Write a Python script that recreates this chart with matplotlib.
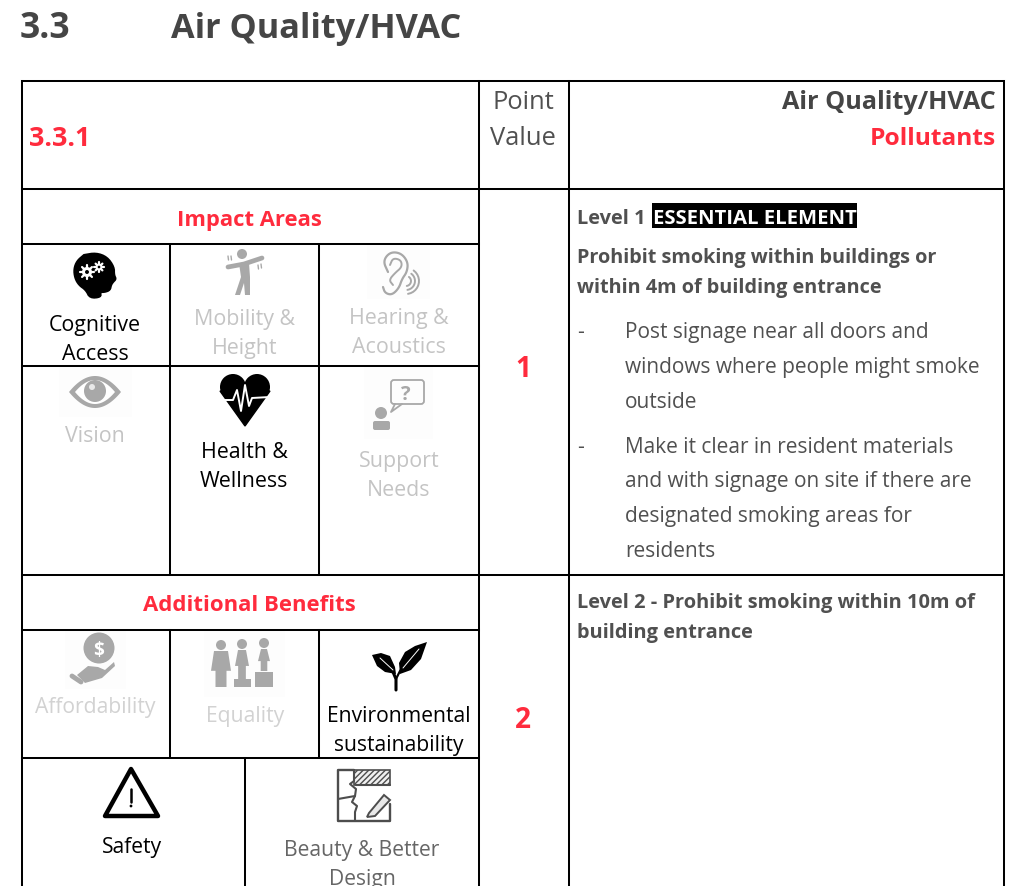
import numpy as np
import matplotlib
matplotlib.use('Agg')
from matplotlib import pyplot as plt
from matplotlib.patches import Circle, Polygon, Rectangle, FancyBboxPatch

plt.rcParams['font.family'] = ['Open Sans', 'DejaVu Sans']

# table text
section_no = '3.3'
section_title = 'Air Quality/HVAC'
item_no = '3.3.1'
point_label = ['Point', 'Value']
head_right = ['Air Quality/HVAC', 'Pollutants']
points = ['1', '2']
group_titles = ['Impact Areas', 'Additional Benefits']
impact_labels = [['Cognitive', 'Access'], ['Mobility &', 'Height'], ['Hearing &', 'Acoustics'],
                 ['Vision'], ['Health &', 'Wellness'], ['Support', 'Needs']]
benefit_labels = [['Affordability'], ['Equality'], ['Environmental', 'sustainability'],
                  ['Safety'], ['Beauty & Better', 'Design']]
level1_tag = 'Level 1'
level1_badge = 'ESSENTIAL ELEMENT'
level1_head = ['Prohibit smoking within buildings or', 'within 4m of building entrance']
level1_bullets = [['Post signage near all doors and', 'windows where people might smoke', 'outside'],
                  ['Make it clear in resident materials', 'and with signage on site if there are',
                   'designated smoking areas for', 'residents']]
level2_text = ['Level 2 - Prohibit smoking within 10m of', 'building entrance']

RED = '#ff2b3d'
DARK = '#454545'
BODY = '#505050'
FADED = '#c4c4c4'
ICON = '#a8a8a8'

W, H = 1009, 887
fig = plt.figure(figsize=(W / 100, H / 100), dpi=100)
ax = fig.add_axes([0, 0, 1, 1])
ax.set_xlim(0, W)
ax.set_ylim(H, 0)
ax.axis('off')


def px(size):
    # px to pt
    return size * 72 / 100


def txt(x, y, s, size=22, color=BODY, weight='normal', ha='left', z=5):
    return ax.text(x, y, s, fontsize=px(size), color=color, fontweight=weight, ha=ha, va='baseline', zorder=z)


def hline(y, x0, x1):
    ax.plot([x0, x1], [y + 0.5, y + 0.5], color='black', lw=1.45, solid_capstyle='projecting', zorder=3)


def vline(x, y0, y1):
    ax.plot([x, x], [y0 + 0.5, y1 + 0.5], color='black', lw=1.45, solid_capstyle='projecting', zorder=3)


def smooth(pts, n=3):
    # corner cutting, keeps the ends
    pts = np.array(pts, dtype=float)
    for _ in range(n):
        q = 0.75 * pts[:-1] + 0.25 * pts[1:]
        r = 0.25 * pts[:-1] + 0.75 * pts[1:]
        mid = np.empty((len(q) * 2, 2))
        mid[0::2] = q
        mid[1::2] = r
        pts = np.r_[pts[:1], mid, pts[-1:]]
    return pts


def curve(pts, color, lw, z=6):
    pts = np.array(pts, dtype=float)
    ax.plot(pts[:, 0], pts[:, 1], color=color, lw=lw, solid_capstyle='round', solid_joinstyle='round', zorder=z)


def gear(x, y, r, color='white'):
    ang = np.linspace(0, 2 * np.pi, 8, endpoint=False)
    for a in ang:
        curve([[x, y], [x + r * np.cos(a), y + r * np.sin(a)]], color, 1.6, 7)
    ax.add_patch(Circle((x, y), r * 0.72, fc=color, ec='none', zorder=7))
    ax.add_patch(Circle((x, y), r * 0.28, fc='black', ec='none', zorder=8))


def head_icon():
    pts = [(84, 256), (96, 254), (107, 258), (114, 268), (114, 276), (116, 280), (113, 283), (111, 286),
           (110, 291), (105, 293), (100, 293), (101, 298), (90, 299), (86, 291), (79, 286), (75, 279),
           (74, 270), (77, 262)]
    ax.add_patch(Polygon(smooth(pts + pts[:1], 2), closed=True, fc='black', ec='black', lw=1.5, zorder=6))
    gear(87, 273, 7)
    gear(99, 268, 4.8)


def mobility_icon():
    ax.add_patch(Circle((242, 255), 5, fc=ICON, ec='none', zorder=6))
    curve([(228, 268), (244, 265), (262, 259)], ICON, 3.4)
    ax.add_patch(Polygon([(239, 264), (249, 264), (250, 278), (250, 296), (245, 296), (244, 284), (240, 296),
                          (235, 296), (241, 278)], closed=True, fc=ICON, ec='none', zorder=6))
    for x, y in [(228, 257), (231, 257), (258, 266), (261, 265)]:
        curve([(x, y), (x + 0.5, y + 4)], ICON, 1)


def ear_icon():
    ax.add_patch(Rectangle((367, 246), 63, 54, fc='#fdfdfd', ec='none', zorder=1))
    curve(smooth([(388, 273), (383, 262), (390, 253), (401, 254), (408, 263), (407, 273), (402, 280), (399, 289),
                  (392, 296), (385, 294), (383, 288)]), ICON, 1.6)
    curve(smooth([(390, 266), (393, 259), (401, 261), (402, 268), (395, 274), (389, 281), (393, 286)]), ICON, 1.4)
    for r in (5, 9, 13):
        t = np.linspace(-0.3 * np.pi, 0.45 * np.pi, 12)
        curve(np.c_[406 + r * np.cos(t), 282 + r * np.sin(t)], ICON, 1.4)


def eye_icon():
    ax.add_patch(Rectangle((59, 367), 73, 51, fc='#fdfdfd', ec='none', zorder=1))
    t = np.linspace(0, 1, 40)
    top = np.c_[69 + 52 * t, 393 - 64 * t * (1 - t)]
    bottom = np.c_[121 - 52 * t, 393 + 64 * t * (1 - t)]
    ax.add_patch(Polygon(np.r_[top, bottom], closed=True, fc=ICON, ec='none', zorder=6))
    top = np.c_[75 + 40 * t, 393 - 48 * t * (1 - t)]
    bottom = np.c_[115 - 40 * t, 393 + 48 * t * (1 - t)]
    ax.add_patch(Polygon(np.r_[top, bottom], closed=True, fc='white', ec='none', zorder=7))
    ax.add_patch(Circle((95, 392), 11, fc=ICON, ec='none', zorder=8))
    ax.add_patch(Circle((92, 388), 3, fc='#e8e8e8', ec='none', zorder=9))


def heart_icon():
    ax.add_patch(Circle((233, 388), 13, fc='black', ec='none', zorder=6))
    ax.add_patch(Circle((257, 388), 13, fc='black', ec='none', zorder=6))
    ax.add_patch(Polygon([(220, 392), (270, 392), (245, 427)], closed=True, fc='black', ec='black',
                         lw=1, zorder=6))
    curve([(220, 401), (233, 401), (237, 391), (241, 412), (245, 386), (249, 407), (252, 399), (270, 398)],
          'white', 1.4, 7)


def support_icon():
    ax.add_patch(Rectangle((364, 367), 69, 73, fc='#fdfdfd', ec='none', zorder=1))
    ax.add_patch(FancyBboxPatch((391, 381), 33, 24, boxstyle='round,pad=0,rounding_size=3', fc='none', ec=ICON,
                                lw=1.3, zorder=6))
    curve([(395, 405), (391, 413), (402, 405)], ICON, 1.3)
    txt(406, 400, '?', 20, ICON, 'bold', 'center', 7)
    ax.add_patch(Circle((381, 414), 6, fc=ICON, ec='none', zorder=6))
    ax.add_patch(FancyBboxPatch((373, 422), 17, 9, boxstyle='round,pad=0,rounding_size=2', fc=ICON, ec='none', zorder=6))


def coin_icon():
    ax.add_patch(Rectangle((65, 630), 61, 60, fc='#fdfdfd', ec='none', zorder=1))
    ax.add_patch(Circle((99, 649), 15.5, fc=ICON, ec='none', zorder=6))
    txt(99, 656, '$', 19, 'white', 'bold', 'center', 7)
    ax.add_patch(Polygon([(77, 676), (88, 667), (98, 668), (105, 671), (114, 663), (115, 667), (102, 679), (85, 684)],
                         closed=True, fc=ICON, ec='none', zorder=6))
    curve([(72, 677), (81, 683)], ICON, 3.5)


def people_icon():
    ax.add_patch(Rectangle((204, 630), 81, 68, fc='#fdfdfd', ec='none', zorder=1))
    for x, head_y, bottom, w in [(221, 646, 688, 10), (242, 645, 680, 7), (264, 644, 672, 6)]:
        top = head_y + 6
        split = top + (bottom - top) * 0.55
        ax.add_patch(Circle((x, head_y), 5, fc=ICON, ec='none', zorder=6))
        ax.add_patch(Polygon([(x - w + 3, top), (x + w - 3, top), (x + w, split), (x + w * 0.55, split),
                              (x + w * 0.55, bottom), (x - w * 0.55, bottom), (x - w * 0.55, split),
                              (x - w, split)], closed=True, fc=ICON, ec='none', zorder=6))
    ax.add_patch(Rectangle((234, 680), 17, 8, fc=ICON, ec='none', zorder=6))
    ax.add_patch(Rectangle((255, 673), 18, 15, fc=ICON, ec='none', zorder=6))


def plant_icon():
    ax.add_patch(Polygon([(372, 656), (381, 654), (390, 657), (395, 668), (396, 675), (385, 673), (377, 667)],
                         closed=True, fc='black', ec='none', zorder=6))
    ax.add_patch(Polygon([(427, 643), (421, 660), (411, 671), (400, 675), (399, 664), (405, 653), (415, 647)],
                         closed=True, fc='black', ec='none', zorder=6))
    curve([(396, 691), (396, 680), (393, 673)], 'black', 2.2)
    curve([(396, 680), (400, 672), (411, 656)], 'black', 1.6)
    curve([(380, 659), (393, 671)], 'white', 0.7, 7)
    curve([(403, 669), (419, 650)], 'white', 0.7, 7)


def safety_icon():
    ax.add_patch(Polygon([(131, 770), (158, 817), (105, 817)], closed=True, fc='none', ec='black', lw=3.2,
                         joinstyle='round', zorder=6))
    curve([(131, 790), (131, 803)], 'black', 1.8)
    ax.add_patch(Circle((131, 807), 1.4, fc='black', ec='none', zorder=6))


def beauty_icon():
    c = '#4d4d4d'
    curve([(354, 771), (338, 771), (338, 822), (390, 822), (390, 805)], c, 1.7)
    ax.add_patch(Rectangle((354, 771), 36, 15, fc='#f0f0f0', ec=c, lw=1.2, hatch='//////', zorder=6))
    curve([(354, 771), (354, 782), (350, 785), (356, 790), (355, 797), (338, 800)], c, 1.5)
    curve([(355, 797), (352, 803), (357, 807), (355, 813), (355, 822)], c, 1.5)
    curve([(390, 786), (356, 786)], c, 1.5)
    ax.add_patch(Polygon([(369, 814), (384, 796), (390, 801), (375, 817), (367, 818)], closed=True, fc='#e8e8e8',
                         ec=c, lw=1.4, zorder=6))


# title
txt(20, 38, section_no, 35.5, DARK, 'bold')
txt(171, 38, section_title, 34.3, DARK, 'bold')

# grid
hline(81, 22, 1004)
hline(189, 22, 1004)
hline(575, 22, 1004)
vline(22, 81, 887)
vline(1004, 81, 887)
vline(479, 81, 887)
vline(569, 81, 887)
hline(244, 22, 479)
hline(366, 22, 479)
hline(630, 22, 479)
hline(758, 22, 479)
vline(170, 244, 575)
vline(319, 244, 575)
vline(170, 630, 758)
vline(319, 630, 758)
vline(245, 758, 887)

# header row
txt(29, 146, item_no, 27, RED, 'bold')
for s, y in zip(point_label, (109, 145)):
    txt(523, y, s, 25.5, BODY, ha='center')
for s, y, c, size in zip(head_right, (109, 145), (DARK, RED), (25.2, 24.5)):
    txt(996, y, s, size, c, 'bold', 'right')

# left column
for s, y, size in zip(group_titles, (226, 611), (22, 22.2)):
    txt(249, y, s, size, RED, 'bold', 'center')
for s, y in zip(points, (377, 728)):
    txt(523, y, s, 28, RED, 'bold', 'center')

impact_pos = [(95, 331, 'black'), (245, 325, FADED), (399, 324, FADED),
              (95, 442, FADED), (244, 458, 'black'), (399, 467, FADED)]
for lines, (x, y, c) in zip(impact_labels, impact_pos):
    for i, s in enumerate(lines):
        txt(x, y + 29 * i, s, 21.4, c, ha='center')

benefit_pos = [(95, 713, '#d2d2d2'), (245, 722, '#d2d2d2'), (399, 722, 'black'),
               (132, 853, 'black'), (362, 856, '#666666')]
for lines, (x, y, c) in zip(benefit_labels, benefit_pos):
    for i, s in enumerate(lines):
        txt(x, y + 29.5 * i, s, 21.2, c, ha='center')

for icon in (head_icon, mobility_icon, ear_icon, eye_icon, heart_icon, support_icon,
             coin_icon, people_icon, plant_icon, safety_icon, beauty_icon):
    icon()

# right column
txt(577, 224, level1_tag, 20, BODY, 'bold')
ax.add_patch(Rectangle((652, 204), 205, 25, fc='black', ec='none', zorder=4))
txt(653, 224, level1_badge, 20.3, 'white', 'bold')
for s, y in zip(level1_head, (263, 293)):
    txt(577, y, s, 19.9, BODY, 'bold')
bullet_y = [[338, 373, 408], [453, 487, 522, 557]]
for lines, ys in zip(level1_bullets, bullet_y):
    txt(577, ys[0], '-', 21, BODY)
    for s, y in zip(lines, ys):
        txt(625, y, s, 20.9, BODY)
for s, y in zip(level2_text, (608, 638)):
    txt(577, y, s, 20, BODY, 'bold')

fig.savefig('out.png', dpi=100, facecolor='white')
